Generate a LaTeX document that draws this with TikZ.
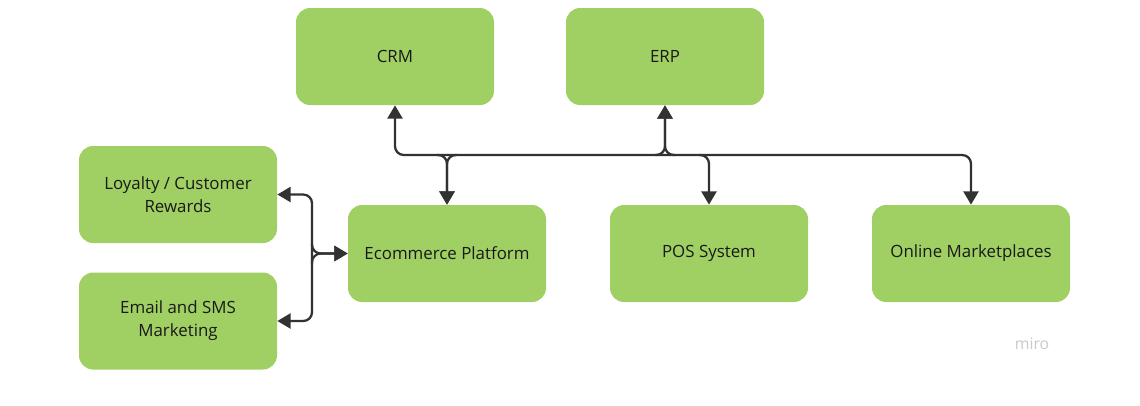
\documentclass[tikz,border=0pt]{standalone}
\usepackage{fontspec}
\setmainfont{Open Sans}
\usetikzlibrary{arrows.meta,calc}
\definecolor{boxgreen}{RGB}{160,208,99}
\definecolor{linegray}{RGB}{50,50,50}
\definecolor{txtgray}{RGB}{25,25,25}
\definecolor{logogray}{RGB}{200,200,208}

\begin{document}
\begin{tikzpicture}[>={Triangle[length=7.5pt,width=8.5pt]},every node/.style={font=\fontsize{9.6}{13}\selectfont,text=txtgray}]
\tikzstyle{sys}=[rectangle,rounded corners=8pt,fill=boxgreen,minimum width=3.96cm,minimum height=1.94cm,align=center,inner sep=0]
\tikzstyle{link}=[draw=linegray,line width=1.3pt,rounded corners=5pt]
\useasboundingbox (0,0) rectangle (22.8,-8.1);
% top row
\node[sys] (crm) at (7.90,-1.13) {CRM};
\node[sys] (erp) at (13.30,-1.13) {ERP};
% left column
\node[sys] (loyal) at (3.56,-3.89) {Loyalty / Customer\\Rewards};
\node[sys] (email) at (3.56,-6.42) {Email and SMS\\Marketing};
% channels
\node[sys] (ecom) at (8.94,-5.07) {Ecommerce Platform};
\node[sys] (pos) at (14.18,-5.07) {POS System};
\node[sys] (market) at (19.42,-5.07) {Online Marketplaces};
\coordinate (bus) at (0,-3.10);
\coordinate (hub) at (6.24,-5.07);
% bus between back office and channels
\draw[link,<->] (crm.south) |- (market.north |- bus) -- (market.north);
\draw[link,->] ($(ecom.north |- bus)+(-0.2,0)$) -| (ecom.north);
\draw[link,->] ($(ecom.north |- bus)+(0.2,0)$) -| (ecom.north);
\draw[link,->] ($(erp.south |- bus)+(-0.2,0)$) -| (erp.south);
\draw[link,->] ($(erp.south |- bus)+(0.2,0)$) -| (erp.south);
\draw[link,->] ($(pos.north |- bus)+(-0.2,0)$) -| (pos.north);
% marketing side
\draw[link,<->] (loyal.east) -| (hub) |- (email.east);
\draw[link,->] ($(hub)+(0,0.2)$) |- (ecom.west);
\draw[link,->] ($(hub)+(0,-0.2)$) |- (ecom.west);
\node[text=logogray,font=\fontsize{9}{10}\selectfont] (logo) at (20.64,-6.87) {miro};
\end{tikzpicture}
\end{document}
